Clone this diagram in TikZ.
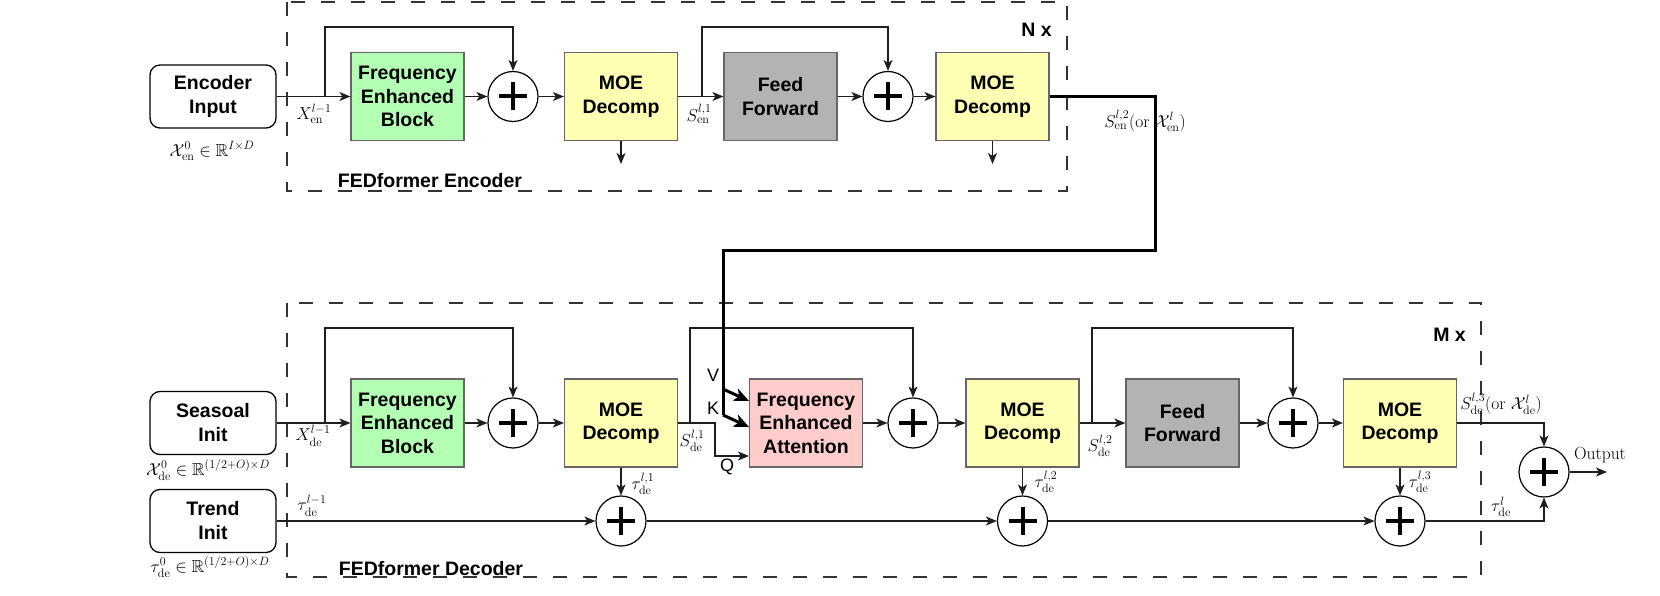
\documentclass[tikz,border=0pt]{standalone}
\usepackage{amssymb}
\usepackage{fontspec}
\newfontfamily\sansf{Liberation Sans}
\usetikzlibrary{arrows.meta}
\definecolor{febg}{RGB}{179,255,179}
\definecolor{moey}{RGB}{255,255,179}
\definecolor{ffg}{RGB}{179,179,179}
\definecolor{feap}{RGB}{255,204,204}
\definecolor{bordg}{RGB}{102,102,102}
\definecolor{lineg}{RGB}{30,30,30}
\begin{document}
\begin{tikzpicture}[x=1pt,y=-1pt,
  blk/.style={draw=bordg, line width=1.2pt, minimum width=113pt, minimum height=88pt, inner sep=0pt, align=center, font=\sansf\bfseries\fontsize{19.5}{23.5}\selectfont},
  inbox/.style={draw=black, line width=1.3pt, rounded corners=10pt, minimum width=126pt, minimum height=63pt, inner sep=0pt, align=center, font=\sansf\bfseries\fontsize{19.5}{24}\selectfont},
  pls/.style={draw=black, line width=1.2pt, circle, minimum size=50pt, inner sep=0pt,
    path picture={\draw[line width=4pt] (path picture bounding box.center) +(-14pt,0pt) -- +(14pt,0pt);
                  \draw[line width=4pt] (path picture bounding box.center) +(0pt,-14pt) -- +(0pt,14pt);}},
  conn/.style={draw=lineg, line width=1.4pt},
  arr/.style={conn, -{Stealth[length=11pt,width=9pt,inset=3pt]}},
  thk/.style={draw=black, line width=3pt},
  thkarr/.style={thk, -{Stealth[length=15pt,width=13pt,inset=4pt]}},
  dbox/.style={draw=black!80, line width=1.3pt, dash pattern=on 14pt off 16pt},
  mlab/.style={inner sep=0pt, font=\fontsize{17.5}{21}\selectfont},
  slab/.style={inner sep=0pt, font=\sansf\bfseries\fontsize{19.5}{23.5}\selectfont},
  qlab/.style={inner sep=0pt, font=\sansf\fontsize{18}{21}\selectfont}
]
\useasboundingbox (0,0) rectangle (1660,596);

% ---------------- Encoder ----------------
\draw[dbox] (287,2) rectangle (1067,191);
\node[inbox] (encin) at (213,96.5) {Encoder\\Input};
\node[blk, fill=febg] (feb1) at (407.5,96.5) {Frequency\\Enhanced\\Block};
\node[pls] (p1) at (513,96.5) {};
\node[blk, fill=moey] (moe1) at (621,96.5) {MOE\\Decomp};
\node[blk, fill=ffg] (ff1) at (780.5,96.5) {Feed\\Forward};
\node[pls] (p2) at (888,96.5) {};
\node[blk, fill=moey] (moe2) at (992.5,96.5) {MOE\\Decomp};

\coordinate (s1) at (325,96.5);
\coordinate (s1t) at (325,27);
\coordinate (s2) at (702,96.5);
\coordinate (s2t) at (702,27);
\coordinate (m1b) at (621,164);
\coordinate (m2b) at (992.5,164);

\draw[arr] (encin.east) -- (feb1.west);
\draw[arr] (feb1.east) -- (p1.west);
\draw[arr] (p1.east) -- (moe1.west);
\draw[arr] (moe1.east) -- (ff1.west);
\draw[arr] (ff1.east) -- (p2.west);
\draw[arr] (p2.east) -- (moe2.west);
\draw[arr] (s1) -- (s1t) -| (p1.north);
\draw[arr] (s2) -- (s2t) -| (p2.north);
\draw[arr] (moe1.south) -- (m1b);
\draw[arr] (moe2.south) -- (m2b);

\node[mlab] at (212,151) {$\mathcal{X}_{\mathrm{en}}^{0}\in\mathbb{R}^{I\times D}$};
\node[mlab] at (314,114) {$X_{\mathrm{en}}^{l-1}$};
\node[mlab] at (699,114) {$S_{\mathrm{en}}^{l,1}$};
\node[mlab] at (1145,121) {$S_{\mathrm{en}}^{l,2}(\mathrm{or}\ \mathcal{X}_{\mathrm{en}}^{l})$};
\node[slab, anchor=east] at (1052,30) {N x};
\node[slab, anchor=base] at (430,188) {FEDformer Encoder};

% ---------------- Decoder ----------------
\draw[dbox] (287,303) rectangle (1481,577);
\node[inbox] (sein) at (213,423) {Seasoal\\Init};
\node[inbox] (trin) at (213,521) {Trend\\Init};
\node[blk, fill=febg] (feb2) at (407.5,423) {Frequency\\Enhanced\\Block};
\node[pls] (q1) at (513,423) {};
\node[blk, fill=moey] (dm1) at (621,423) {MOE\\Decomp};
\node[blk, fill=feap] (fea) at (806,423) {Frequency\\Enhanced\\Attention};
\node[pls] (q2) at (913,423) {};
\node[blk, fill=moey] (dm2) at (1022.5,423) {MOE\\Decomp};
\node[blk, fill=ffg] (ff2) at (1182.5,423) {Feed\\Forward};
\node[pls] (q3) at (1293,423) {};
\node[blk, fill=moey] (dm3) at (1400,423) {MOE\\Decomp};
\node[pls] (qo) at (1544,472) {};
\node[pls] (t1) at (621,521) {};
\node[pls] (t2) at (1022.5,521) {};
\node[pls] (t3) at (1400,521) {};

\coordinate (d1) at (325,423);
\coordinate (d1t) at (325,328);
\coordinate (d2) at (690,423);
\coordinate (d2t) at (690,328);
\coordinate (d3) at (1092,423);
\coordinate (d3t) at (1092,328);
\coordinate (qa) at (715,423);
\coordinate (qb) at (715,456);
\coordinate (qin) at (749,456);
\coordinate (outend) at (1607,472);

\draw[arr] (sein.east) -- (feb2.west);
\draw[arr] (feb2.east) -- (q1.west);
\draw[arr] (q1.east) -- (dm1.west);
\draw[arr] (dm1.east) -- (qa) -- (qb) -- (qin);
\draw[arr] (fea.east) -- (q2.west);
\draw[arr] (q2.east) -- (dm2.west);
\draw[arr] (dm2.east) -- (ff2.west);
\draw[arr] (ff2.east) -- (q3.west);
\draw[arr] (q3.east) -- (dm3.west);
\draw[arr] (d1) -- (d1t) -| (q1.north);
\draw[arr] (d2) -- (d2t) -| (q2.north);
\draw[arr] (d3) -- (d3t) -| (q3.north);
\draw[arr] (dm1.south) -- (t1.north);
\draw[arr] (dm2.south) -- (t2.north);
\draw[arr] (dm3.south) -- (t3.north);
\draw[arr] (trin.east) -- (t1.west);
\draw[arr] (t1.east) -- (t2.west);
\draw[arr] (t2.east) -- (t3.west);
\draw[arr] (t3.east) -| (qo.south);
\draw[arr] (dm3.east) -| (qo.north);
\draw[arr] (qo.east) -- (outend);

% thick encoder -> decoder connector
\coordinate (c1) at (1155,96.5);
\coordinate (c2) at (1155,251);
\coordinate (c3) at (723,251);
\coordinate (c4) at (723,415);
\coordinate (vb) at (723,389);
\coordinate (vin) at (749,401);
\coordinate (kin) at (749,427);
\draw[thk] (moe2.east) -- (c1) -- (c2) -- (c3) -- (c4);
\draw[thkarr] (vb) -- (vin);
\draw[thkarr] (c4) -- (kin);

\node[qlab] at (713,375) {V};
\node[qlab] at (713,408) {K};
\node[qlab] at (727,467) {Q};

\node[mlab] at (208,470) {$\mathcal{X}_{\mathrm{de}}^{0}\in\mathbb{R}^{(1/2+O)\times D}$};
\node[mlab] at (210,567) {$\tau_{\mathrm{de}}^{0}\in\mathbb{R}^{(1/2+O)\times D}$};
\node[mlab] at (313,436) {$X_{\mathrm{de}}^{l-1}$};
\node[mlab] at (312,506) {$\tau_{\mathrm{de}}^{l-1}$};
\node[mlab] at (692,441) {$S_{\mathrm{de}}^{l,1}$};
\node[mlab] at (643,484) {$\tau_{\mathrm{de}}^{l,1}$};
\node[mlab] at (1100,446) {$S_{\mathrm{de}}^{l,2}$};
\node[mlab] at (1046,482) {$\tau_{\mathrm{de}}^{l,2}$};
\node[mlab] at (1501,404) {$S_{\mathrm{de}}^{l,3}(\mathrm{or}\ \mathcal{X}_{\mathrm{de}}^{l})$};
\node[mlab] at (1420,482) {$\tau_{\mathrm{de}}^{l,3}$};
\node[mlab] at (1501,507) {$\tau_{\mathrm{de}}^{l}$};
\node[mlab] at (1600,455) {Output};
\node[slab, anchor=east] at (1466,335) {M x};
\node[slab, anchor=base] at (431,575) {FEDformer Decoder};
\end{tikzpicture}
\end{document}
